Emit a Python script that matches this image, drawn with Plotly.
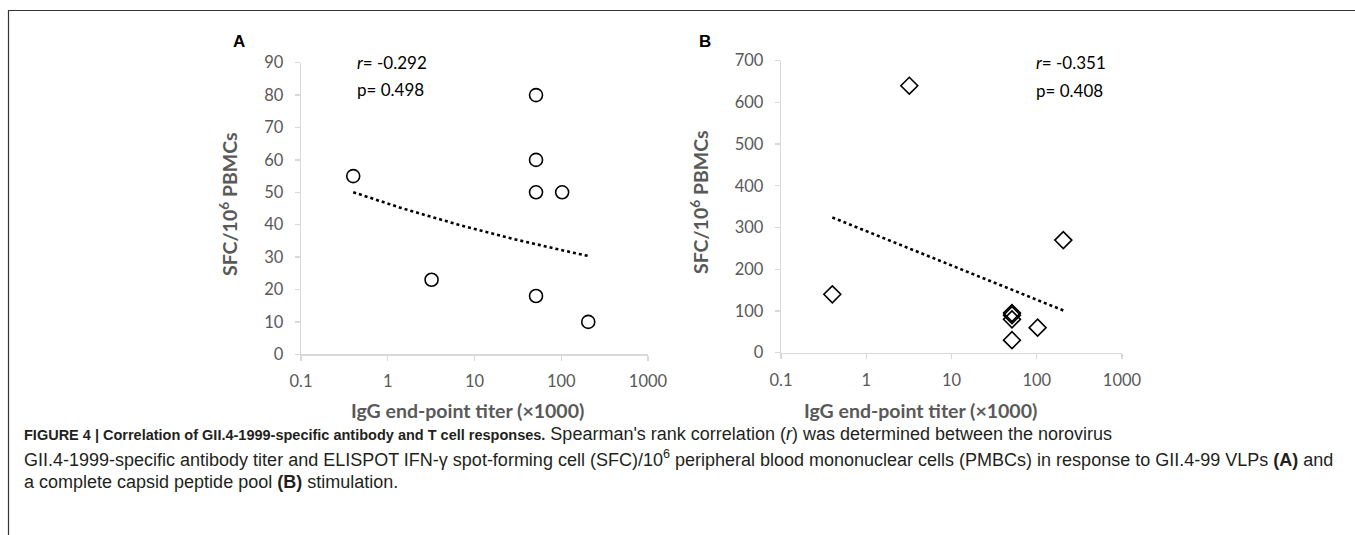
import numpy as np
import plotly.graph_objects as go

W, H = 1355, 535

# ---- data ----
titer_a = [0.4, 3.2, 51.2, 51.2, 51.2, 102.4, 51.2, 204.8]
sfc_a = [55, 23, 80, 60, 50, 50, 18, 10]
titer_b = [0.4, 3.2, 51.2, 51.2, 51.2, 51.2, 102.4, 204.8]
sfc_b = [140, 640, 95, 90, 80, 30, 60, 270]
x_ticks = [0.1, 1, 10, 100, 1000]
x_tick_text = ["0.1", "1", "10", "100", "1000"]
y_ticks_a = [0, 10, 20, 30, 40, 50, 60, 70, 80, 90]
y_ticks_b = [0, 100, 200, 300, 400, 500, 600, 700]
stats_a = ["<i>r</i>= -0.292", "p= 0.498"]
stats_b = ["<i>r</i>= -0.351", "p= 0.408"]

# ---- trendlines (Excel-style fits) ----
xa = np.array(titer_a); ya = np.array(sfc_a)
ba, la = np.polyfit(np.log(xa), np.log(ya), 1)          # power fit
fit_xa = np.geomspace(xa.min(), xa.max(), 60)
fit_ya = np.exp(la) * fit_xa ** ba
xb = np.array(titer_b); yb = np.array(sfc_b)
bb, ab = np.polyfit(np.log(xb), yb, 1)                   # logarithmic fit
fit_xb = np.geomspace(xb.min(), xb.max(), 60)
fit_yb = ab + bb * np.log(fit_xb)


def px(x):
    return x / W


def py(y):
    return 1 - y / H


GRAY = "#595959"
AXC = "#D9D9D9"
FONT = "Lato, Carlito, Calibri, sans-serif"

fig = go.Figure()
fig.add_trace(go.Scatter(x=fit_xa, y=fit_ya, mode="lines", xaxis="x", yaxis="y",
                         line=dict(color="black", width=2.6, dash="dot"), hoverinfo="skip"))
fig.add_trace(go.Scatter(x=titer_a, y=sfc_a, mode="markers", xaxis="x", yaxis="y",
                         marker=dict(symbol="circle-open", size=13, color="black",
                                     line=dict(width=1.6, color="black")), cliponaxis=False))
fig.add_trace(go.Scatter(x=fit_xb, y=fit_yb, mode="lines", xaxis="x2", yaxis="y2",
                         line=dict(color="black", width=2.6, dash="dot"), hoverinfo="skip"))
fig.add_trace(go.Scatter(x=titer_b, y=sfc_b, mode="markers", xaxis="x2", yaxis="y2",
                         marker=dict(symbol="diamond-open", size=13, color="black",
                                     line=dict(width=1.6, color="black")), cliponaxis=False))

xcommon = dict(type="log", range=[-1, 3], tickvals=x_ticks, ticktext=x_tick_text,
               showgrid=False, zeroline=False, showline=True, linecolor=AXC, linewidth=1.3,
               ticks="outside", ticklen=5, tickcolor=AXC, tickwidth=1.3,
               tickfont=dict(family=FONT, size=16.5, color=GRAY), ticklabelstandoff=7)
ycommon = dict(showgrid=False, zeroline=False, showline=True, linecolor=AXC, linewidth=1.3,
               ticks="outside", ticklen=5, tickcolor=AXC, tickwidth=1.3,
               tickfont=dict(family=FONT, size=16.5, color=GRAY), ticklabelstandoff=8)

fig.update_layout(
    width=W, height=H, margin=dict(l=0, r=0, t=0, b=0, autoexpand=False),
    paper_bgcolor="white", plot_bgcolor="white", showlegend=False,
    xaxis=dict(domain=[px(301), px(648)], anchor="y", **xcommon),
    yaxis=dict(domain=[py(354.3), py(62.7)], anchor="x", range=[0, 90], tickvals=y_ticks_a, **ycommon),
    xaxis2=dict(domain=[px(781), px(1122)], anchor="y2", **xcommon),
    yaxis2=dict(domain=[py(352.7), py(60.7)], anchor="x2", range=[0, 700], tickvals=y_ticks_b, **ycommon),
)

ann = []
# panel letters
ann.append(dict(x=px(239), y=py(41), text="<b>A</b>", font=dict(family="Liberation Sans, Arial", size=17, color="black")))
ann.append(dict(x=px(705), y=py(41), text="<b>B</b>", font=dict(family="Liberation Sans, Arial", size=17, color="black")))
# stats text
for i, t in enumerate(stats_a):
    ann.append(dict(x=px(355), y=py(62 + 27 * i), text=t, xanchor="left",
                    font=dict(family=FONT, size=17, color="black")))
for i, t in enumerate(stats_b):
    ann.append(dict(x=px(1034), y=py(63 + 27 * i), text=t, xanchor="left",
                    font=dict(family=FONT, size=17, color="black")))
# axis titles
ytitle = "<b>SFC/10<sup>6</sup> PBMCs</b>"
xtitle = "<b>IgG end-point titer (×1000)</b>"
TSIZE = 19.5
ann.append(dict(x=px(228), y=py(204), text=ytitle, textangle=-90,
                font=dict(family=FONT, size=TSIZE, color=GRAY)))
ann.append(dict(x=px(699), y=py(202), text=ytitle, textangle=-90,
                font=dict(family=FONT, size=TSIZE, color=GRAY)))
ann.append(dict(x=px(467), y=py(410), text=xtitle, font=dict(family=FONT, size=TSIZE, color=GRAY)))
ann.append(dict(x=px(920), y=py(410), text=xtitle, font=dict(family=FONT, size=TSIZE, color=GRAY)))

# caption: compact bold heading + regular body text
HEAD = "font-size:14.5px"
caption = [
    f"<span style=\"{HEAD}\"><b>FIGURE 4 | Correlation of GII.4-1999-specific antibody and T cell responses.</b></span> "
    "Spearman's rank correlation (<i>r</i>) was determined between the norovirus",
    "GII.4-1999-specific antibody titer and ELISPOT IFN-γ spot-forming cell (SFC)/10<sup>6</sup> "
    "peripheral blood mononuclear cells (PMBCs) in response to GII.4-99 VLPs <b>(A)</b> and",
    "a complete capsid peptide pool <b>(B)</b> stimulation.",
]
cap_font = dict(family="Liberation Sans, Arial, sans-serif", size=18, color="#231F20")
for i, t in enumerate(caption):
    ann.append(dict(x=px(22), y=py(434 + 24 * i), text=t, xanchor="left", font=cap_font))

for a in ann:
    a.setdefault("xanchor", "center")
    a.update(xref="paper", yref="paper", yanchor="middle", showarrow=False)
fig.update_layout(annotations=ann)

# frame lines
fig.add_shape(type="line", xref="paper", yref="paper", x0=px(8), x1=1, y0=py(10.5), y1=py(10.5),
              line=dict(color="#333333", width=1.2))
fig.add_shape(type="line", xref="paper", yref="paper", x0=px(8.5), x1=px(8.5), y0=py(10), y1=0,
              line=dict(color="#333333", width=1.2))

fig.write_html("out.html", config={"displayModeBar": False, "staticPlot": True},
               post_script="document.body.style.margin='0';document.body.style.overflow='hidden';")
